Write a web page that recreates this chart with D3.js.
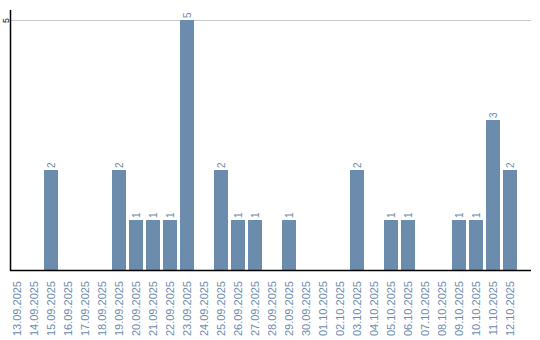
<!DOCTYPE html>
<html>
<head>
<meta charset="utf-8">
<script src="https://cdn.jsdelivr.net/npm/d3@7"></script>
<style>
  body { margin: 0; background: #fff; }
  text { font-family: "Liberation Sans", Arial, sans-serif; }
</style>
</head>
<body>
<svg id="chart" width="540" height="340"></svg>
<script>
const dates = [
  '13.09.2025', '14.09.2025', '15.09.2025', '16.09.2025', '17.09.2025',
  '18.09.2025', '19.09.2025', '20.09.2025', '21.09.2025', '22.09.2025',
  '23.09.2025', '24.09.2025', '25.09.2025', '26.09.2025', '27.09.2025',
  '28.09.2025', '29.09.2025', '30.09.2025', '01.10.2025', '02.10.2025',
  '03.10.2025', '04.10.2025', '05.10.2025', '06.10.2025', '07.10.2025',
  '08.10.2025', '09.10.2025', '10.10.2025', '11.10.2025', '12.10.2025'
];
const counts = [
  0, 0, 2, 0, 0, 0, 2, 1, 1, 1,
  5, 0, 2, 1, 1, 0, 1, 0, 0, 0,
  2, 0, 1, 1, 0, 0, 1, 1, 3, 2
];
const yTicks = [5];

const barColor = '#6c8cad';
const labelColor = '#6c8cad';

const svg = d3.select('#chart');

const x = d3.scaleBand()
  .domain(dates)
  .range([8.5, 518.5])
  .paddingInner(3 / 17)
  .paddingOuter(1.5 / 17);

const y = d3.scaleLinear()
  .domain([0, 5.2])
  .range([270, 10]);

const data = dates.map((d, i) => ({ date: d, value: counts[i] }));

// grid
svg.selectAll('.grid')
  .data(yTicks)
  .enter().append('line')
  .attr('x1', 11)
  .attr('x2', 531)
  .attr('y1', d => y(d) + 0.5)
  .attr('y2', d => y(d) + 0.5)
  .attr('stroke', '#c8c8c8')
  .attr('stroke-width', 1);

// bars
svg.selectAll('.bar')
  .data(data.filter(d => d.value > 0))
  .enter().append('rect')
  .attr('x', d => x(d.date))
  .attr('width', x.bandwidth())
  .attr('y', d => y(d.value))
  .attr('height', d => y(0) - y(d.value))
  .attr('fill', barColor);

// value labels
svg.selectAll('.val')
  .data(data.filter(d => d.value > 0))
  .enter().append('text')
  .attr('transform', d => `translate(${x(d.date) + x.bandwidth() / 2}, ${y(d.value) - 2}) rotate(-90)`)
  .attr('dy', '0.35em')
  .attr('text-anchor', 'start')
  .attr('font-size', 10)
  .attr('fill', labelColor)
  .text(d => d.value);

// x axis
const xAxis = svg.append('g')
  .attr('transform', 'translate(0, 270)')
  .call(d3.axisBottom(x).tickSize(0).tickPadding(0));
xAxis.select('.domain')
  .attr('d', 'M10,0.5H531')
  .attr('stroke', '#000')
  .attr('stroke-width', 1.5);
xAxis.selectAll('text')
  .attr('transform', 'translate(0, 11) rotate(-90)')
  .attr('x', 0)
  .attr('y', 0)
  .attr('dy', '0.35em')
  .attr('text-anchor', 'end')
  .attr('font-size', 11)
  .attr('font-family', '"Liberation Sans", Arial, sans-serif')
  .attr('fill', labelColor);

// y axis
const yAxis = svg.append('g')
  .attr('transform', 'translate(10.5, 0)')
  .call(d3.axisLeft(y).tickValues(yTicks).tickFormat(d3.format('d')).tickSize(0).tickPadding(0));
yAxis.select('.domain')
  .attr('d', 'M0,10V270.5')
  .attr('stroke', '#000')
  .attr('stroke-width', 1.5);
yAxis.selectAll('text')
  .attr('transform', 'translate(-5, 0) rotate(-90)')
  .attr('x', 0)
  .attr('y', 0)
  .attr('dy', '0.35em')
  .attr('text-anchor', 'middle')
  .attr('font-size', 9)
  .attr('font-family', '"Liberation Sans", Arial, sans-serif')
  .attr('fill', '#000');
</script>
</body>
</html>
